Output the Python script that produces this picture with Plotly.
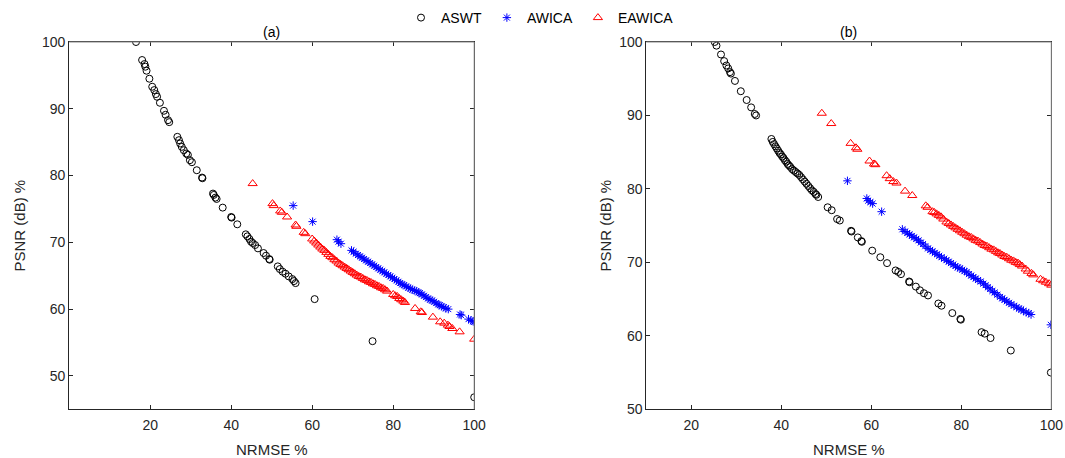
import plotly.graph_objects as go

# ---------------- data: panel (a) ----------------
a_aswt_x = [16.5, 18.0, 18.6, 18.8, 19.1, 19.8, 20.5, 21.0, 21.4, 21.7, 22.4, 23.4, 23.8, 24.4, 24.7,
            26.7, 27.1, 27.4, 27.8, 28.3, 28.9, 29.3, 29.8, 30.3, 31.5, 32.8, 32.9, 35.5, 35.7, 36.1, 36.4,
            37.9, 40.0, 40.1, 41.5, 43.6, 44.0, 44.5, 44.9, 45.3, 45.9, 46.6, 48.0, 48.6, 49.4, 49.5,
            51.5, 52.0, 52.7, 53.4, 54.2, 55.1, 55.5, 55.9, 60.6, 74.9, 100.0]
a_aswt_y = [100.0, 97.3, 96.7, 96.3, 95.7, 94.5, 93.3, 92.8, 92.2, 91.8, 90.9, 89.7, 89.1, 88.3, 88.0,
            85.8, 85.3, 84.8, 84.3, 83.8, 83.3, 83.1, 82.3, 82.0, 80.8, 79.7, 79.6, 77.3, 77.1, 76.7, 76.5,
            75.2, 73.8, 73.7, 72.7, 71.2, 70.9, 70.5, 70.1, 69.9, 69.6, 69.1, 68.4, 68.0, 67.5, 67.4,
            66.4, 66.0, 65.6, 65.3, 64.9, 64.5, 64.2, 63.9, 61.5, 55.2, 46.8]

a_awica_x = [55.3, 60.1, 66.1, 66.5, 67.1,
             69.7, 70.2, 70.8, 71.3, 71.8, 72.3, 72.8, 73.3, 73.8, 74.3, 74.8, 75.3, 75.8, 76.3, 76.8,
             77.3, 77.8, 78.3, 78.8, 79.3, 79.8, 80.3, 80.8, 81.3, 81.7, 82.2, 82.7, 83.2, 83.7, 84.2,
             84.7, 85.2, 85.7, 86.2, 86.6, 87.1, 87.6, 88.1, 88.6, 89.1, 89.6, 90.1, 90.6, 91.1, 91.5,
             92.0, 92.5, 93.0, 93.6, 96.5, 96.8, 98.6, 99.2, 99.7, 100.0]
a_awica_y = [75.5, 73.1, 70.4, 70.1, 69.8,
             68.8, 68.6, 68.3, 68.1, 67.9, 67.7, 67.5, 67.3, 67.1, 66.9, 66.7, 66.5, 66.3, 66.1, 65.9,
             65.7, 65.5, 65.3, 65.1, 64.9, 64.7, 64.5, 64.3, 64.1, 63.9, 63.7, 63.6, 63.4, 63.2, 63.1,
             62.9, 62.8, 62.7, 62.5, 62.4, 62.2, 62.0, 61.8, 61.6, 61.4, 61.3, 61.1, 60.9, 60.7, 60.6,
             60.4, 60.3, 60.1, 60.0, 59.2, 59.1, 58.5, 58.3, 58.2, 58.1]

a_eawica_x = [45.3, 50.2, 50.5, 52.1, 52.5, 53.8, 55.9, 56.1, 57.9, 58.3,
              60.0, 60.5, 61.0, 61.5, 62.0, 62.5, 63.0, 63.5, 64.0, 64.5, 65.0, 65.5, 66.0, 66.5,
              67.0, 67.5, 68.0, 68.5, 69.0, 69.5, 70.0, 70.5, 71.0, 71.5, 72.0, 72.5, 73.0, 73.5,
              74.0, 74.5, 75.0, 75.5, 76.0, 76.5, 77.0, 77.5, 78.0, 78.5, 80.0, 80.5, 81.0, 81.5,
              82.0, 82.5, 82.9, 85.4, 86.8, 87.1, 89.8, 91.6, 92.6, 93.5, 93.9, 94.6, 96.4, 100.0]
a_eawica_y = [78.8, 75.8, 75.5, 74.7, 74.5, 73.8, 72.6, 72.4, 71.5, 71.3,
              70.5, 70.2, 69.9, 69.6, 69.3, 69.0, 68.8, 68.5, 68.2, 67.9, 67.7, 67.4, 67.2, 66.9,
              66.7, 66.5, 66.3, 66.1, 65.9, 65.7, 65.5, 65.3, 65.1, 64.9, 64.8, 64.6, 64.4, 64.3,
              64.1, 64.0, 63.8, 63.7, 63.5, 63.4, 63.2, 63.1, 62.9, 62.7, 62.2, 62.0, 61.9, 61.6,
              61.4, 61.2, 61.0, 60.1, 59.6, 59.5, 58.8, 58.1, 57.9, 57.6, 57.4, 57.1, 56.6, 55.5]

# ---------------- data: panel (b) ----------------
b_aswt_x = [25.2, 25.6, 26.6, 27.3, 27.8, 28.2, 28.6, 28.8, 29.7, 31.0, 32.3, 33.3, 34.1, 34.4,
            37.8, 38.1, 38.4, 38.7, 39.0, 39.3, 39.6, 39.9, 40.2, 40.5, 40.8, 41.1, 41.4, 41.7, 42.0,
            42.4, 42.8, 43.2, 43.6, 44.0, 44.4, 44.8, 45.2, 45.6, 46.0, 46.4, 46.8, 47.2, 47.6, 47.8,
            48.2, 50.3, 51.2, 52.4, 53.0, 55.5, 55.6, 57.0, 57.8, 57.9, 60.2, 62.0, 63.5, 65.4, 66.0,
            66.6, 68.4, 68.5, 69.9, 70.8, 71.7, 72.6, 74.9, 75.6, 78.0, 79.8, 79.9, 84.5, 85.2, 86.5,
            91.0, 99.9]
b_aswt_y = [100.0, 99.5, 98.3, 97.4, 96.8, 96.4, 95.9, 95.7, 94.7, 93.3, 92.1, 91.1, 90.2, 90.0,
            86.8, 86.4, 86.1, 85.8, 85.5, 85.2, 84.9, 84.7, 84.4, 84.2, 83.9, 83.7, 83.4, 83.2, 83.0,
            82.7, 82.5, 82.3, 82.1, 81.9, 81.6, 81.3, 81.0, 80.7, 80.4, 80.1, 79.8, 79.6, 79.3, 79.2,
            78.9, 77.5, 77.1, 75.9, 75.7, 74.3, 74.2, 73.4, 72.9, 72.8, 71.6, 70.7, 69.9, 68.9, 68.7,
            68.4, 67.4, 67.3, 66.7, 66.2, 65.8, 65.5, 64.4, 64.1, 63.1, 62.3, 62.2, 60.5, 60.3, 59.7,
            58.0, 55.0]

b_awica_x = [54.7, 59.0, 59.3, 59.8, 60.3, 62.3,
             66.9, 67.5, 68.0, 68.5, 69.0, 69.5, 70.0, 70.5, 71.0, 71.5, 72.0, 72.6, 73.1, 73.6,
             74.1, 74.6, 75.1, 75.6, 76.2, 76.7, 77.2, 77.7, 78.2, 78.7, 79.2, 79.7, 80.2, 80.7,
             81.2, 81.7, 82.2, 82.7, 83.2, 83.7, 84.3, 84.9, 85.4, 85.9, 86.4, 86.9, 87.4, 88.0,
             88.6, 89.1, 89.6, 90.1, 90.6, 91.1, 91.7, 92.3, 92.8, 93.3, 93.8, 94.4, 95.0, 95.5, 99.9]
b_awica_y = [81.1, 78.7, 78.4, 78.2, 78.0, 76.9,
             74.5, 74.2, 74.0, 73.8, 73.6, 73.4, 73.2, 73.0, 72.7, 72.5, 72.2, 71.9, 71.7, 71.5,
             71.3, 71.1, 70.9, 70.7, 70.5, 70.3, 70.1, 69.9, 69.7, 69.5, 69.3, 69.2, 69.0, 68.8,
             68.7, 68.4, 68.2, 68.0, 67.8, 67.6, 67.4, 67.1, 66.9, 66.6, 66.4, 66.1, 65.9, 65.6,
             65.3, 65.1, 64.9, 64.7, 64.5, 64.3, 64.1, 63.9, 63.7, 63.6, 63.4, 63.2, 63.1, 62.9, 61.5]

b_eawica_x = [49.0, 51.1, 55.4, 56.6, 56.9, 59.6, 60.6, 60.9, 63.4, 64.1, 64.9, 65.6, 67.5, 69.1,
              72.1, 72.5, 73.6, 74.0,
              74.5, 75.0, 75.5, 76.0, 76.7, 77.2, 77.7, 78.2, 78.7, 79.2, 79.7, 80.2, 80.7, 81.2,
              81.7, 82.2, 82.7, 83.2, 83.7, 84.2, 84.7, 85.2, 85.7, 86.2, 86.7, 87.2, 87.7, 88.2,
              88.6, 89.1, 89.6, 90.1, 90.6, 91.1, 91.6, 92.1, 92.6, 93.0, 93.5, 94.3, 94.8, 95.6,
              96.0, 97.6, 98.2, 98.8, 99.5, 100.0]
b_eawica_y = [90.3, 88.9, 86.2, 85.6, 85.4, 83.8, 83.4, 83.3, 81.8, 81.4, 81.0, 80.8, 79.7, 79.1,
              77.7, 77.5, 76.9, 76.8,
              76.6, 76.4, 76.2, 75.9, 75.5, 75.3, 75.1, 74.9, 74.7, 74.5, 74.3, 74.1, 73.9, 73.7,
              73.5, 73.4, 73.2, 73.0, 72.9, 72.7, 72.5, 72.3, 72.2, 72.0, 71.8, 71.7, 71.5, 71.3,
              71.2, 71.0, 70.8, 70.7, 70.5, 70.3, 70.2, 70.0, 69.9, 69.7, 69.5, 69.1, 68.8, 68.5,
              68.3, 67.7, 67.5, 67.3, 67.1, 66.9]

series_names = ["ASWT", "AWICA", "EAWICA"]
x_ticks = [20, 40, 60, 80, 100]
y_ticks = [50, 60, 70, 80, 90, 100]

# ---------------- styling ----------------
FONT = "Liberation Sans, Arial, Helvetica, sans-serif"
AX = "#262626"
BOX = "#8a8a8a"
styles = [
    dict(symbol="circle-open", size=7, color="#000000", line=dict(width=1, color="#000000")),
    dict(symbol="asterisk-open", size=7, color="#0000ff", line=dict(width=1, color="#0000ff")),
    dict(symbol="triangle-up-open", size=8, color="#ff0000", line=dict(width=1, color="#ff0000")),
]

fig = go.Figure()
panels = [
    ((a_aswt_x, a_aswt_y), (a_awica_x, a_awica_y), (a_eawica_x, a_eawica_y)),
    ((b_aswt_x, b_aswt_y), (b_awica_x, b_awica_y), (b_eawica_x, b_eawica_y)),
]
for p, series in enumerate(panels):
    for s, (xs, ys) in enumerate(series):
        fig.add_trace(go.Scatter(
            x=xs, y=ys, mode="markers", name=series_names[s],
            marker=styles[s], showlegend=(p == 0),
            xaxis="x" if p == 0 else "x2", yaxis="y" if p == 0 else "y2",
        ))

# body margin is removed in the page, so paper coords map directly to window pixels
W, H = 1065, 458

def hx(px):
    return px / W

def vy(py):
    return 1 - py / H

axis_common = dict(
    showline=True, linewidth=1, linecolor=AX, mirror="ticks",
    ticks="inside", ticklen=4, tickwidth=1, tickcolor=AX,
    showgrid=False, zeroline=False, automargin=False, ticklabeloverflow="allow",
    tickfont=dict(family=FONT, size=14, color=AX),
)

xa_dom = [hx(69.2), hx(474.2)]
xb_dom = [hx(646.3), hx(1051.3)]
y_dom = [vy(409.3), vy(42)]

fig.update_layout(
    width=W, height=H, template="none",
    paper_bgcolor="white", plot_bgcolor="white",
    margin=dict(l=0, r=0, t=0, b=0, autoexpand=False),
    font=dict(family=FONT, size=14, color=AX),
    xaxis=dict(domain=xa_dom, range=[0, 100], tickvals=x_ticks, anchor="y",
               ticklabelstandoff=3, **axis_common),
    yaxis=dict(domain=y_dom, range=[45, 100], tickvals=y_ticks, anchor="x", **axis_common),
    xaxis2=dict(domain=xb_dom, range=[10, 100], tickvals=x_ticks, anchor="y2",
                ticklabelstandoff=3, **axis_common),
    yaxis2=dict(domain=y_dom, range=[50, 100], tickvals=y_ticks, anchor="x2", **axis_common),
    legend=dict(orientation="h", x=hx(401), xanchor="left", y=vy(18), yanchor="middle",
                font=dict(family=FONT, size=14, color="#000000"), bgcolor="rgba(0,0,0,0)"),
    showlegend=True,
)

# lighter top / right frame lines (box), drawn over the mirrored axis lines
for xr, yr in (("x domain", "y domain"), ("x2 domain", "y2 domain")):
    fig.add_shape(type="line", xref=xr, yref=yr, x0=0, x1=1, y0=1, y1=1,
                  line=dict(color=BOX, width=1), layer="above")
    fig.add_shape(type="line", xref=xr, yref=yr, x0=1, x1=1, y0=0, y1=1,
                  line=dict(color=BOX, width=1), layer="above")

ann = dict(xref="paper", yref="paper", showarrow=False, font=dict(family=FONT, size=14, color="#000000"))
fig.add_annotation(text="(a)", x=hx(271.7), y=vy(31.7), xanchor="center", yanchor="middle", **ann)
fig.add_annotation(text="(b)", x=hx(848.8), y=vy(31.7), xanchor="center", yanchor="middle", **ann)
lab = dict(xref="paper", yref="paper", showarrow=False, font=dict(family=FONT, size=15, color=AX))
fig.add_annotation(text="NRMSE %", x=hx(271.7), y=vy(449), xanchor="center", yanchor="middle", **lab)
fig.add_annotation(text="NRMSE %", x=hx(848.8), y=vy(449), xanchor="center", yanchor="middle", **lab)
fig.add_annotation(text="PSNR (dB) %", x=hx(19), y=vy(225.5), xanchor="center", yanchor="middle",
                   textangle=-90, **lab)
fig.add_annotation(text="PSNR (dB) %", x=hx(605), y=vy(225.5), xanchor="center", yanchor="middle",
                   textangle=-90, **lab)

fig.write_html(
    "out.html",
    config={"displayModeBar": False},
    post_script="document.body.style.margin='0px';document.body.style.overflow='hidden';",
)
